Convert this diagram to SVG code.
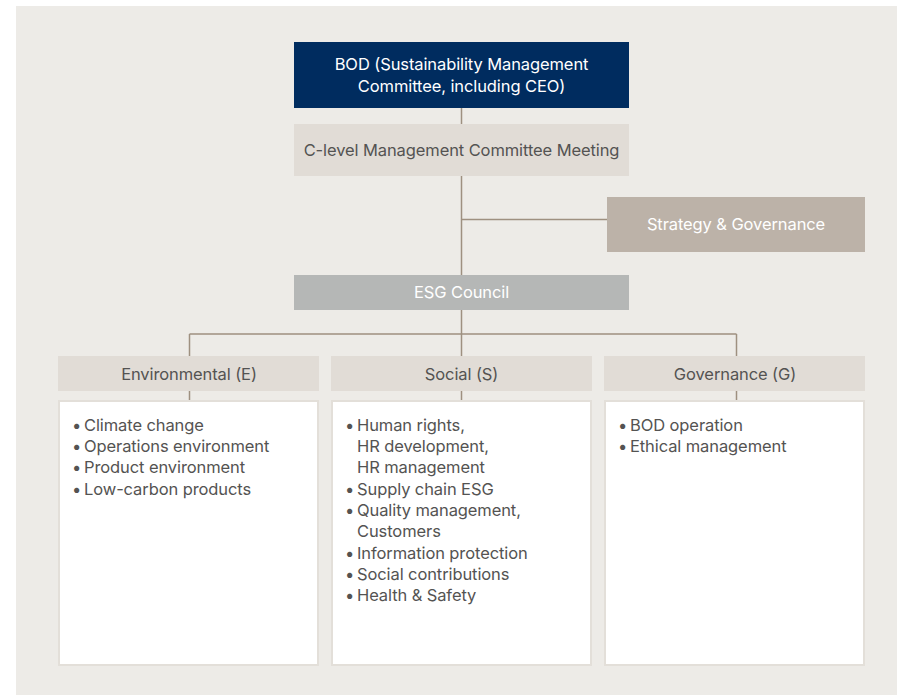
<svg xmlns="http://www.w3.org/2000/svg" width="897" height="695" viewBox="0 0 897 695">
<style>
text{font-family:Inter,"Noto Sans","Liberation Sans",sans-serif;font-size:16.5px;letter-spacing:-0.1px}
.c{text-anchor:middle}
.hd{fill:#e1dcd6}
.bd{fill:#ffffff;stroke:#e3dfd9;stroke-width:2}
.dk{fill:#545352}
.wt{fill:#ffffff}
.ln{stroke:#9e9080;stroke-width:1.5;fill:none}
</style>
<rect x="16" y="6" width="881" height="689" fill="#edebe7"/>
<g id="connectors">
<path class="ln" d="M461.5 108V275M461.5 219.5H607M461.5 310V400M189.5 334H736.5M189.5 334V400M736.5 334V400"/>
</g>
<g id="bod">
<rect x="294" y="42" width="335" height="66" fill="#002c5f"/>
<text class="c wt" x="461.5" y="70">BOD (Sustainability Management</text>
<text class="c wt" x="461.5" y="92">Committee, including CEO)</text>
</g>
<g id="clevel">
<rect class="hd" x="294" y="124" width="335" height="52"/>
<text class="c dk" x="461.5" y="156">C-level Management Committee Meeting</text>
</g>
<g id="strategy">
<rect x="607" y="197" width="258" height="55" fill="#bcb2a8"/>
<text class="c wt" x="736" y="230">Strategy &amp; Governance</text>
</g>
<g id="esg">
<rect x="294" y="275" width="335" height="35" fill="#b5b7b6"/>
<text class="c wt" x="461.5" y="298">ESG Council</text>
</g>
<g id="env">
<rect class="hd" x="58" y="356" width="261" height="35"/>
<text class="c dk" x="189" y="380">Environmental (E)</text>
<rect class="bd" x="59" y="401" width="259" height="264"/>
<text class="dk" y="431"><tspan x="72">•</tspan><tspan x="84">Climate change</tspan></text>
<text class="dk" y="452"><tspan x="72">•</tspan><tspan x="84">Operations environment</tspan></text>
<text class="dk" y="473"><tspan x="72">•</tspan><tspan x="84">Product environment</tspan></text>
<text class="dk" y="495"><tspan x="72">•</tspan><tspan x="84">Low-carbon products</tspan></text>
</g>
<g id="soc">
<rect class="hd" x="331" y="356" width="261" height="35"/>
<text class="c dk" x="461.5" y="380">Social (S)</text>
<rect class="bd" x="332" y="401" width="259" height="264"/>
<text class="dk" y="431"><tspan x="345">•</tspan><tspan x="357">Human rights,</tspan></text>
<text class="dk" x="357" y="452">HR development,</text>
<text class="dk" x="357" y="473">HR management</text>
<text class="dk" y="495"><tspan x="345">•</tspan><tspan x="357">Supply chain ESG</tspan></text>
<text class="dk" y="516"><tspan x="345">•</tspan><tspan x="357">Quality management,</tspan></text>
<text class="dk" x="357" y="537">Customers</text>
<text class="dk" y="559"><tspan x="345">•</tspan><tspan x="357">Information protection</tspan></text>
<text class="dk" y="580"><tspan x="345">•</tspan><tspan x="357">Social contributions</tspan></text>
<text class="dk" y="601"><tspan x="345">•</tspan><tspan x="357">Health &amp; Safety</tspan></text>
</g>
<g id="gov">
<rect class="hd" x="604" y="356" width="261" height="35"/>
<text class="c dk" x="735" y="380">Governance (G)</text>
<rect class="bd" x="605" y="401" width="259" height="264"/>
<text class="dk" y="431"><tspan x="618">•</tspan><tspan x="630">BOD operation</tspan></text>
<text class="dk" y="452"><tspan x="618">•</tspan><tspan x="630">Ethical management</tspan></text>
</g>
</svg>
